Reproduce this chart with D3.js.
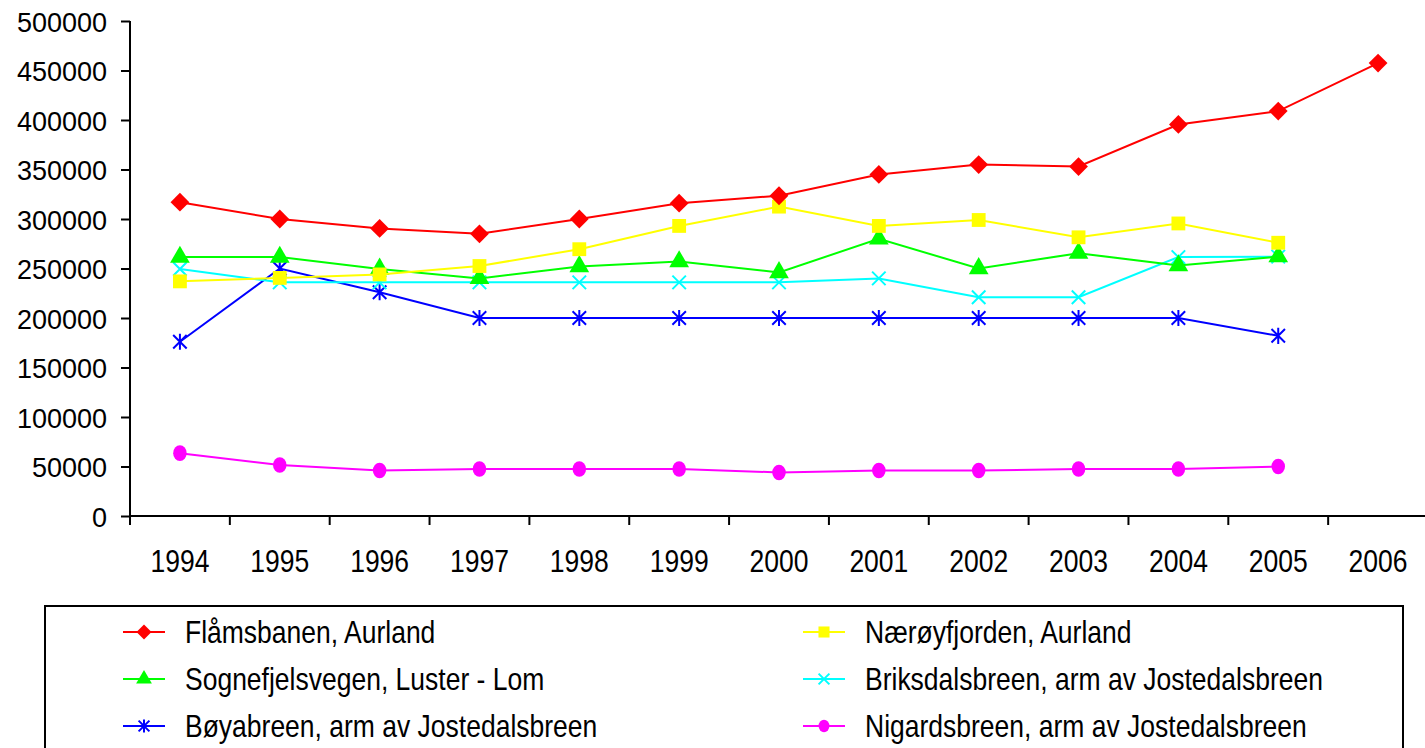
<!DOCTYPE html>
<html><head><meta charset="utf-8">
<script src="https://cdn.jsdelivr.net/npm/d3@7/dist/d3.min.js"></script>
<style>
html,body{margin:0;padding:0;background:#fff;}
svg{display:block;font-family:"Liberation Sans",Arial,sans-serif;}
</style></head>
<body><svg id="c" width="1425" height="748"></svg>
<script>
const years = ["1994","1995","1996","1997","1998","1999","2000","2001","2002","2003","2004","2005","2006"];
const yTicks = [0,50000,100000,150000,200000,250000,300000,350000,400000,450000,500000];
const seriesNames = ["Flåmsbanen, Aurland","Nærøyfjorden, Aurland","Sognefjelsvegen, Luster - Lom","Briksdalsbreen, arm av Jostedalsbreen","Bøyabreen, arm av Jostedalsbreen","Nigardsbreen, arm av Jostedalsbreen"];
const flamsbanen     = [317000,300000,290500,285000,300000,316000,323500,345000,355000,353000,395500,409000,457500];
const naeroyfjorden  = [237000,240500,244000,252500,269500,293000,312500,293000,299000,281500,295500,276000,null];
const sognefjelsvegen= [261500,261500,249500,240000,252000,257000,246000,280000,250000,265500,253000,262000,null];
const briksdalsbreen = [249500,236000,236000,236000,236000,236000,236000,240000,221000,221000,261500,262000,null];
const boyabreen      = [176000,250000,226000,200000,200000,200000,200000,200000,200000,200000,200000,182000,null];
const nigardsbreen   = [63500,51500,46000,47500,47500,47500,44000,46000,46000,47500,47500,50000,null];
const seriesValues = [flamsbanen,naeroyfjorden,sognefjelsvegen,briksdalsbreen,boyabreen,nigardsbreen];
const colors = ["#ff0000","#ffff00","#00ff00","#00ffff","#0000ff","#ff00ff"];
const markers = ["diamond","square","triangle","xcross","asterisk","circle"];

const svg = d3.select("#c");
const x = d3.scaleBand().domain(years).range([130,1428]);
const y = d3.scaleLinear().domain([0,500000]).range([516,21]);

// axes
const yAxis = d3.axisLeft(y).tickValues(yTicks).tickSize(9).tickPadding(14).tickFormat(d=>String(d));
const gy = svg.append("g").attr("transform","translate(130,0)").call(yAxis);
gy.select(".domain").attr("stroke","#000").attr("stroke-width",2).attr("d","M0,21V525");
gy.selectAll(".tick line").attr("stroke","#000").attr("stroke-width",2);
gy.selectAll(".tick text").attr("font-size",27).attr("fill","#000").attr("dy","0.37em").attr("font-family","'Liberation Sans',Arial,sans-serif");

const xAxis = d3.axisBottom(x).tickSize(0);
const gx = svg.append("g").attr("transform","translate(0,516)").call(xAxis);
gx.select(".domain").attr("stroke","#000").attr("stroke-width",2).attr("d","M130,0H1428");
gx.selectAll(".tick text").attr("font-size",26.5).attr("fill","#000").attr("y",0).attr("dy",0)
  .attr("transform","translate(0,55.5) scale(1,1.2)").attr("font-family","'Liberation Sans',Arial,sans-serif");
// boundary ticks between categories
const bounds = years.map(d=>x(d));
gx.selectAll("line.bt").data(bounds).enter().append("line").attr("class","bt")
  .attr("x1",d=>d).attr("x2",d=>d).attr("y1",0).attr("y2",9).attr("stroke","#000").attr("stroke-width",2);

function markerPath(type, s){
  switch(type){
    case "diamond": return d3.symbol(d3.symbolDiamond2, s*s*1.0)();
    case "square": return d3.symbol(d3.symbolSquare, s*s*0.85)();
    case "triangle": return d3.symbol(d3.symbolTriangle, s*s*0.75)();
    case "xcross": { const h=s*0.45; return `M${-h},${-h}L${h},${h}M${-h},${h}L${h},${-h}`; }
    case "asterisk": { const h=s*0.45; return `M${-h},${-h}L${h},${h}M${-h},${h}L${h},${-h}M0,${-h*1.2}V${h*1.2}`; }
  }
  return null;
}
function drawMarker(g, type, color, cx, cy, s){
  if(type==="circle"){
    g.append("ellipse").attr("cx",cx).attr("cy",cy).attr("rx",s*0.45).attr("ry",s*0.52).attr("fill",color);
  } else if(type==="xcross"||type==="asterisk"){
    g.append("path").attr("d",markerPath(type,s)).attr("transform",`translate(${cx},${cy})`).attr("stroke",color).attr("stroke-width",2).attr("fill","none");
  } else {
    g.append("path").attr("d",markerPath(type,s)).attr("transform",`translate(${cx},${cy})`).attr("fill",color);
  }
}

const line = d3.line().defined(d=>d.v!==null).x(d=>x(d.yr)+x.bandwidth()/2).y(d=>y(d.v));
for(let i=seriesValues.length-1;i>=0;i--){
  const data = years.map((yr,j)=>({yr, v: seriesValues[i][j]}));
  const g = svg.append("g");
  g.append("path").datum(data).attr("d",line).attr("fill","none").attr("stroke",colors[i]).attr("stroke-width",2);
  data.filter(d=>d.v!==null).forEach(d=>drawMarker(g, markers[i], colors[i], x(d.yr)+x.bandwidth()/2, y(d.v), 15));
}

// legend
const lg = svg.append("g");
lg.append("rect").attr("x",45).attr("y",606).attr("width",1358).attr("height",160).attr("fill","none").attr("stroke","#000").attr("stroke-width",2);
const legPos = [[123,632],[803,632],[123,679],[803,679],[123,726],[803,726]];
seriesNames.forEach((n,i)=>{
  const [lx,ly] = legPos[i];
  const g = lg.append("g");
  g.append("line").attr("x1",lx).attr("x2",lx+42).attr("y1",ly).attr("y2",ly).attr("stroke",colors[i]).attr("stroke-width",2);
  drawMarker(g, markers[i], colors[i], lx+21, ly, 12);
  g.append("text").attr("transform",`translate(${lx+62},${ly+11}) scale(1,1.15)`).attr("font-size",26.5).attr("fill","#000").text(n);
});
</script></body></html>
